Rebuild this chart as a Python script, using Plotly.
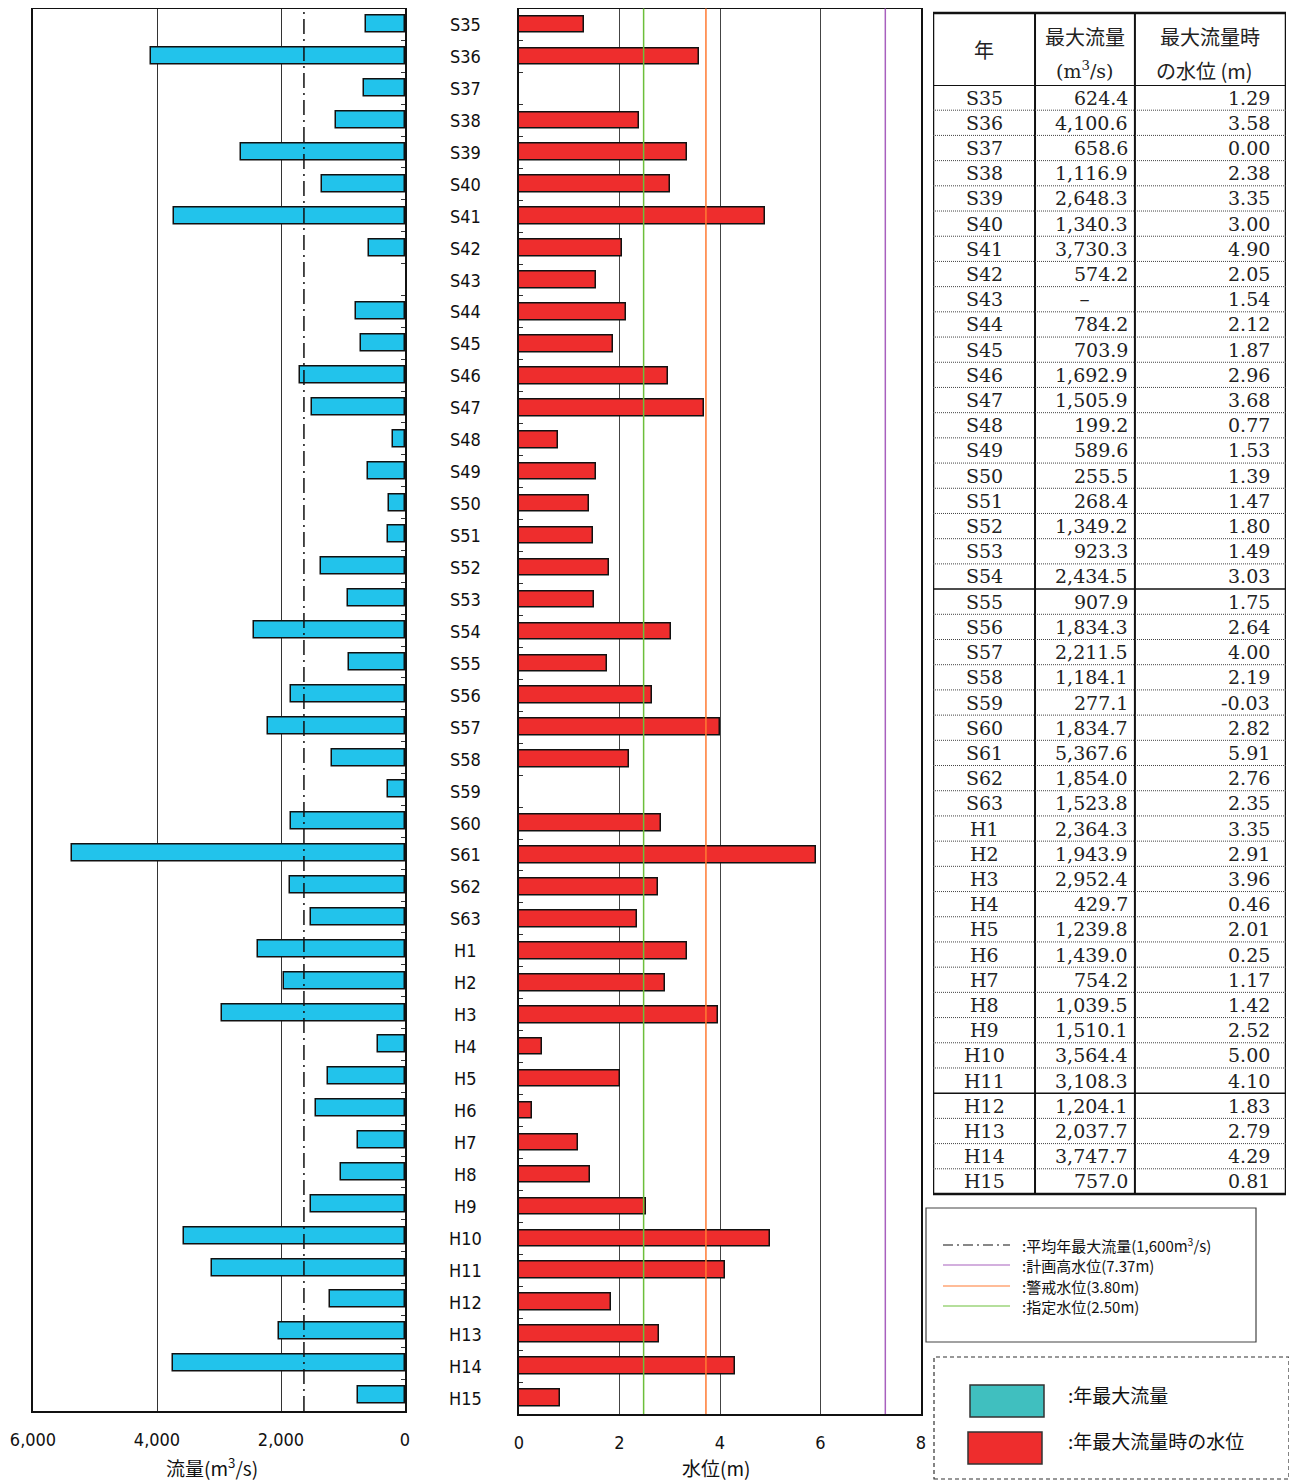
import plotly.graph_objects as go

# ---------------- data ----------------
years = ["S35", "S36", "S37", "S38", "S39", "S40", "S41", "S42", "S43", "S44",
         "S45", "S46", "S47", "S48", "S49", "S50", "S51", "S52", "S53", "S54",
         "S55", "S56", "S57", "S58", "S59", "S60", "S61", "S62", "S63", "H1",
         "H2", "H3", "H4", "H5", "H6", "H7", "H8", "H9", "H10", "H11",
         "H12", "H13", "H14", "H15"]
max_flow = [624.4, 4100.6, 658.6, 1116.9, 2648.3, 1340.3, 3730.3, 574.2, None, 784.2,
            703.9, 1692.9, 1505.9, 199.2, 589.6, 255.5, 268.4, 1349.2, 923.3, 2434.5,
            907.9, 1834.3, 2211.5, 1184.1, 277.1, 1834.7, 5367.6, 1854.0, 1523.8, 2364.3,
            1943.9, 2952.4, 429.7, 1239.8, 1439.0, 754.2, 1039.5, 1510.1, 3564.4, 3108.3,
            1204.1, 2037.7, 3747.7, 757.0]
water_level = [1.29, 3.58, 0.00, 2.38, 3.35, 3.00, 4.90, 2.05, 1.54, 2.12,
               1.87, 2.96, 3.68, 0.77, 1.53, 1.39, 1.47, 1.80, 1.49, 3.03,
               1.75, 2.64, 4.00, 2.19, -0.03, 2.82, 5.91, 2.76, 2.35, 3.35,
               2.91, 3.96, 0.46, 2.01, 0.25, 1.17, 1.42, 2.52, 5.00, 4.10,
               1.83, 2.79, 4.29, 0.81]
flow_ticks = [0, 2000, 4000, 6000]
flow_ticktext = ["0", "2,000", "4,000", "6,000"]
level_ticks = [0, 2, 4, 6, 8]
mean_annual_max_flow = 1630          # dash-dot line as drawn
plan_high_level = 7.29               # 計画高水位 as drawn
warning_level = 3.72                 # 警戒水位 as drawn
designated_level = 2.48              # 指定水位 as drawn
solid_breaks = ["S54", "H11"]        # table rows followed by a solid rule

flow_text = ["－" if v is None else f"{v:,.1f}" for v in max_flow]
level_text = [f"{v:.2f}" for v in water_level]

# page has an 8px body margin; figure is sized so content lands where the reference has it
OFF = 8
W, H = 1297 - OFF, 1482 - OFF
def px(x): return min(1.0, max(0.0, (x - OFF) / W))
def py(y): return min(1.0, max(0.0, 1 - (y - OFF) / H))

COND = "Liberation Sans Narrow, DejaVu Sans Condensed, Arial Narrow, sans-serif"
JP = "Noto Sans CJK JP"
SERIF = "DejaVu Serif, Liberation Serif, serif"

CYAN = "#22C3EB"
RED = "#EE2D2D"
GREEN = "#6CBF3A"
ORANGE = "#FF7A33"
PURPLE = "#A860BE"

fig = go.Figure()

fig.add_trace(go.Bar(x=max_flow, y=years, orientation="h", xaxis="x", yaxis="y",
                     marker=dict(color=CYAN, line=dict(color="#111", width=1.5)),
                     width=0.53, showlegend=False))
fig.add_trace(go.Bar(x=water_level, y=years, orientation="h", xaxis="x2", yaxis="y2",
                     marker=dict(color=RED, line=dict(color="#111", width=1.5)),
                     width=0.52, showlegend=False))

axis_common = dict(showline=True, mirror=True, linecolor="#111", linewidth=1.5,
                   zeroline=False, automargin=False)
ycommon = dict(type="category", categoryorder="array", categoryarray=years,
               range=[len(years) - 0.5, -0.5], showticklabels=False,
               showgrid=False, ticks="inside", tickson="boundaries", ticklen=4,
               tickcolor="#333", **axis_common)

fig.update_layout(
    width=W, height=H, margin=dict(l=0, r=0, t=0, b=0, pad=0),
    paper_bgcolor="white", plot_bgcolor="white", bargap=0,
    xaxis=dict(domain=[px(33), px(405)], range=[6000, 0], tickvals=flow_ticks,
               ticktext=flow_ticktext, showgrid=True, gridcolor="#333", gridwidth=1,
               ticks="", ticklabelstandoff=12,
               tickfont=dict(family=COND, size=18, color="#111"), anchor="y",
               **axis_common),
    yaxis=dict(domain=[py(1411), py(8.5)], anchor="x", side="right", **ycommon),
    xaxis2=dict(domain=[px(519), px(921)], range=[0, 8], tickvals=level_ticks,
                showgrid=True, gridcolor="#444", gridwidth=1, ticks="",
                ticklabelstandoff=12,
                tickfont=dict(family=COND, size=18, color="#111"), anchor="y2",
                **axis_common),
    yaxis2=dict(domain=[py(1414), py(8.5)], anchor="x2", side="left", **ycommon),
    xaxis3=dict(domain=[px(933), px(1286)], range=[0, 1], visible=False, anchor="y3",
                automargin=False),
    yaxis3=dict(domain=[py(1194), py(85)], type="category", categoryorder="array",
                categoryarray=years, range=[len(years) - 0.5, -0.5], visible=False,
                anchor="x3", automargin=False),
)

shapes = []
annotations = []

# reference lines
shapes.append(dict(type="line", xref="x", yref="y domain", x0=mean_annual_max_flow,
                   x1=mean_annual_max_flow, y0=0, y1=1,
                   line=dict(color="#111", width=1.5, dash="15px,5px,2px,5px")))
for lv, col in [(designated_level, GREEN), (warning_level, ORANGE), (plan_high_level, PURPLE)]:
    shapes.append(dict(type="line", xref="x2", yref="y2 domain", x0=lv, x1=lv, y0=0, y1=1,
                       line=dict(color=col, width=1.5)))

# category labels between the two panels
for yr in years:
    annotations.append(dict(xref="paper", yref="y2", x=px(465), y=yr, text=yr,
                            showarrow=False, xanchor="center", yanchor="middle",
                            font=dict(family=COND, size=18, color="#111")))

# axis titles
annotations.append(dict(xref="paper", yref="paper", x=px(212), y=py(1467),
                        text="流量(m<sup>3</sup>/s)", showarrow=False,
                        xanchor="center", yanchor="middle",
                        font=dict(family=JP, size=19, color="#111")))
annotations.append(dict(xref="paper", yref="paper", x=px(716), y=py(1467),
                        text="水位(m)", showarrow=False, xanchor="center", yanchor="middle",
                        font=dict(family=JP, size=19, color="#111")))

# ---------------- table ----------------
col_edges = [0, 0.289, 0.572, 1]
tbl_top = py(13)
# outer border
shapes.append(dict(type="rect", xref="x3", yref="paper", x0=0, x1=1, y0=py(1194),
                   y1=tbl_top, line=dict(color="#111", width=2.5)))
# column rules
for ce in col_edges[1:-1]:
    shapes.append(dict(type="line", xref="x3", yref="paper", x0=ce, x1=ce,
                       y0=py(1194), y1=tbl_top, line=dict(color="#111", width=2)))
# header bottom rule
shapes.append(dict(type="line", xref="x3", yref="y3", x0=0, x1=1, y0=-0.5, y1=-0.5,
                   line=dict(color="#111", width=2)))
# row rules
for i, yr in enumerate(years[:-1]):
    solid = yr in solid_breaks
    shapes.append(dict(type="line", xref="x3", yref="y3", x0=0, x1=1, y0=i + 0.5, y1=i + 0.5,
                       line=dict(color="#111" if solid else "#444",
                                 width=1.5 if solid else 1,
                                 dash="solid" if solid else "1px,1px")))
# header texts
hdr_font = dict(family=JP, size=20, color="#222")
def hdr(x, y, text, font):
    return dict(xref="x3", yref="paper", x=x, y=py(y), text=text, showarrow=False,
                xanchor="center", yanchor="middle", font=font)
annotations += [
    hdr(0.1445, 49, "年", hdr_font),
    hdr(0.43, 37, "最大流量", hdr_font),
    hdr(0.43, 70, "(m<sup>3</sup>/s)", dict(family=SERIF, size=19, color="#222")),
    hdr(0.786, 37, "最大流量時", hdr_font),
    hdr(0.77, 71, "の水位 (m)", hdr_font),
]
cell_font = dict(family=SERIF, size=19, color="#222")
for yr, ft, lt in zip(years, flow_text, level_text):
    annotations.append(dict(xref="x3", yref="y3", x=0.1445, y=yr, text=yr, showarrow=False,
                            xanchor="center", yanchor="middle", font=cell_font))
    annotations.append(dict(xref="x3", yref="y3", x=0.558 if ft != "－" else 0.43, y=yr, text=ft,
                            showarrow=False, xanchor="right" if ft != "－" else "center",
                            yanchor="middle", font=cell_font))
    annotations.append(dict(xref="x3", yref="y3", x=0.96, y=yr, text=lt, showarrow=False,
                            xanchor="right", yanchor="middle", font=cell_font))

# ---------------- legend boxes ----------------
shapes.append(dict(type="rect", xref="paper", yref="paper", x0=px(926), x1=px(1256),
                   y0=py(1342), y1=py(1208), line=dict(color="#444", width=1.2)))
leg_items = [
    ("#111", "10px,4px,2px,4px", ":平均年最大流量(1,600m<sup>3</sup>/s)", 1245),
    (PURPLE, "solid", ":計画高水位(7.37m)", 1265),
    (ORANGE, "solid", ":警戒水位(3.80m)", 1286),
    (GREEN, "solid", ":指定水位(2.50m)", 1306),
]
for col, dash, txt, yy in leg_items:
    shapes.append(dict(type="line", xref="paper", yref="paper", x0=px(943), x1=px(1010),
                       y0=py(yy), y1=py(yy), line=dict(color=col, width=1.2, dash=dash)))
    annotations.append(dict(xref="paper", yref="paper", x=px(1020), y=py(yy), text=txt,
                            showarrow=False, xanchor="left", yanchor="middle",
                            font=dict(family=JP, size=15, color="#111")))

shapes.append(dict(type="rect", xref="paper", yref="paper", x0=px(934), x1=px(1289),
                   y0=py(1479), y1=py(1357), line=dict(color="#333", width=1.2, dash="4px,3px")))
shapes.append(dict(type="rect", xref="paper", yref="paper", x0=px(970), x1=px(1044),
                   y0=py(1417), y1=py(1385), fillcolor="#40BFBF",
                   line=dict(color="#333", width=1.5)))
shapes.append(dict(type="rect", xref="paper", yref="paper", x0=px(968), x1=px(1042),
                   y0=py(1464), y1=py(1432), fillcolor=RED,
                   line=dict(color="#333", width=1.5)))
annotations.append(dict(xref="paper", yref="paper", x=px(1066), y=py(1394), text=":年最大流量",
                        showarrow=False, xanchor="left", yanchor="middle",
                        font=dict(family=JP, size=19, color="#111")))
annotations.append(dict(xref="paper", yref="paper", x=px(1066), y=py(1440),
                        text=":年最大流量時の水位", showarrow=False, xanchor="left",
                        yanchor="middle", font=dict(family=JP, size=19, color="#111")))

fig.update_layout(shapes=shapes, annotations=annotations)
fig.write_html("out.html")
